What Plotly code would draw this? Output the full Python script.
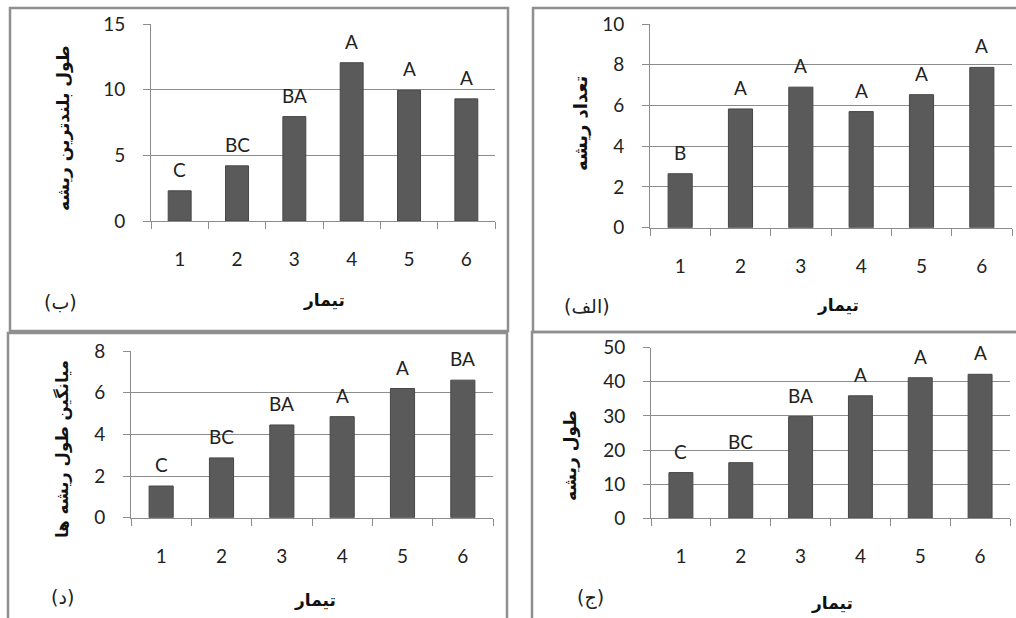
import plotly.graph_objects as go

W, H = 1016, 618

treatments = [1, 2, 3, 4, 5, 6]

# Panel ب : longest root length
longest_root = [2.3, 4.2, 7.95, 12.05, 9.95, 9.3]
longest_letters = ["C", "BC", "BA", "A", "A", "A"]

# Panel الف : number of roots
root_count = [2.65, 5.83, 6.9, 5.7, 6.53, 7.87]
count_letters = ["B", "A", "A", "A", "A", "A"]

# Panel د : mean root length
mean_root = [1.52, 2.87, 4.45, 4.85, 6.2, 6.6]
mean_letters = ["C", "BC", "BA", "A", "A", "BA"]

# Panel ج : root length
root_length = [13.4, 16.3, 29.8, 35.9, 41.2, 42.2]
length_letters = ["C", "BC", "BA", "A", "A", "A"]

y_titles = ["طول بلندترین ریشه", "تعداد ریشه", "میانگین طول ریشه ها", "طول ریشه"]
panel_tags = ["(ب)", "(الف)", "(د)", "(ج)"]
x_title = "تیمار"
y_max = [15, 10, 8, 50]
y_dtick = [5, 2, 2, 10]


def px(x):
    return x / W


def py(y):
    return 1 - y / H


# layout geometry (pixels): plot-area left, right, top, bottom
areas = [
    (151, 495, 24, 221),
    (650, 1012, 24, 227.7),
    (131, 493, 351, 517.7),
    (651, 1010, 347.7, 518.3),
]
borders = [
    (10, 8, 508, 331),
    (533, 8, 1030, 332),
    (8, 333, 507, 630),
    (532, 332, 1030, 630),
]
ytitle_pos = [(64, 128), (580, 124), (62, 449), (570, 456)]
ytitle_size = [17, 18, 16.5, 17]
xtitle_pos = [(324, 300), (838, 305), (315, 600), (832, 603)]
tag_pos = [(60, 302), (587, 306), (62, 597), (590, 597)]

series = [
    (longest_root, longest_letters),
    (root_count, count_letters),
    (mean_root, mean_letters),
    (root_length, length_letters),
]

GRID = "#8c8c8c"
BAR = "#5a5a5a"
TICKFONT = dict(family="Lato, Open Sans, sans-serif", size=19, color="#222")
ARFONT = "DejaVu Sans, Noto Sans, sans-serif"

fig = go.Figure()
layout = dict(
    width=W,
    height=H,
    margin=dict(l=0, r=0, t=0, b=0, autoexpand=False),
    paper_bgcolor="white",
    plot_bgcolor="white",
    showlegend=False,
    annotations=[],
    shapes=[],
)

for i, ((vals, letters), area) in enumerate(zip(series, areas)):
    n = "" if i == 0 else str(i + 1)
    xa, ya = "x" + n, "y" + n
    fig.add_trace(
        go.Bar(
            x=treatments,
            y=vals,
            width=0.4,
            marker=dict(color=BAR, line=dict(color="#474747", width=1)),
            xaxis=xa,
            yaxis=ya,
            hoverinfo="x+y",
        )
    )
    l, r, t, b = area
    layout["xaxis" + n] = dict(
        domain=[px(l), px(r)],
        anchor=ya,
        automargin=False,
        range=[0.5, 6.5],
        tickmode="array",
        tickvals=treatments,
        ticktext=[str(v) for v in treatments],
        ticks="",
        showline=True,
        linecolor=GRID,
        linewidth=1,
        showgrid=False,
        zeroline=False,
        tickfont=TICKFONT,
        ticklabelstandoff=21,
        minor=dict(ticks="outside", tick0=0.5, dtick=1, ticklen=7, tickcolor=GRID, showgrid=False),
        fixedrange=True,
    )
    layout["yaxis" + n] = dict(
        domain=[py(b), py(t)],
        anchor=xa,
        automargin=False,
        range=[0, y_max[i]],
        dtick=y_dtick[i],
        tick0=0,
        ticks="outside",
        ticklen=7,
        tickcolor=GRID,
        showline=True,
        linecolor=GRID,
        linewidth=1,
        showgrid=True,
        gridcolor=GRID,
        gridwidth=1,
        zeroline=False,
        tickfont=TICKFONT,
        ticklabelstandoff=14,
        fixedrange=True,
    )
    # significance letters
    for xv, yv, lab in zip(treatments, vals, letters):
        layout["annotations"].append(
            dict(
                x=xv, y=yv, xref=xa, yref=ya, text=lab, showarrow=False,
                xanchor="center", yanchor="bottom", yshift=8, font=TICKFONT,
            )
        )
    # axis titles and panel tags
    yx, yy = ytitle_pos[i]
    layout["annotations"].append(
        dict(x=px(yx), y=py(yy), xref="paper", yref="paper", text="<b>" + y_titles[i] + "</b>",
             textangle=-90, showarrow=False, xanchor="center", yanchor="middle",
             font=dict(family=ARFONT, size=ytitle_size[i], color="#111"))
    )
    xx, xy = xtitle_pos[i]
    layout["annotations"].append(
        dict(x=px(xx), y=py(xy), xref="paper", yref="paper", text="<b>" + x_title + "</b>",
             showarrow=False, xanchor="center", yanchor="middle",
             font=dict(family=ARFONT, size=17, color="#111"))
    )
    tx, ty = tag_pos[i]
    layout["annotations"].append(
        dict(x=px(tx), y=py(ty), xref="paper", yref="paper", text=panel_tags[i],
             showarrow=False, xanchor="center", yanchor="middle",
             font=dict(family=ARFONT, size=19, color="#222"))
    )
    bx0, by0, bx1, by1 = borders[i]
    layout["shapes"].append(
        dict(type="rect", xref="paper", yref="paper", x0=px(bx0), x1=px(bx1), y0=py(by1), y1=py(by0),
             line=dict(color="#8f8f8f", width=2.5), fillcolor="rgba(0,0,0,0)", layer="below")
    )

fig.update_layout(**layout)
fig.write_html(
    "out.html",
    config={"displayModeBar": False},
    post_script="document.body.style.margin='0';document.body.style.overflow='hidden';",
)
